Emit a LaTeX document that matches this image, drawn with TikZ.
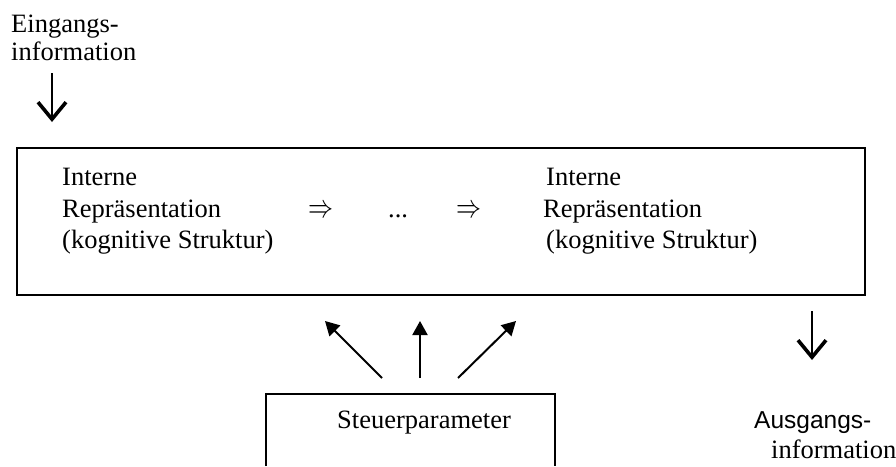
\RequirePackage{fix-cm}
\documentclass[tikz,border=0pt]{standalone}
\usepackage{fontspec}
\setmainfont{Liberation Serif}
\newfontfamily\sansfont{Liberation Sans}
\usepackage{tikz}
\usetikzlibrary{arrows.meta}

\tikzset{
  txt/.style={anchor=base west,inner sep=0pt,font=\fontsize{26.5}{32}\selectfont},
  impl/.style={anchor=west,inner sep=0pt,font=\fontsize{26.5}{32}\selectfont},
  flow/.style={-{Straight Barb[length=17pt,width=28pt,line width=3.6pt]},line width=2.8pt},
  ctrl/.style={-{Triangle[length=14pt,width=15pt]},line width=2pt},
}

\begin{document}
\begin{tikzpicture}[x=1pt,y=-1pt]
  \useasboundingbox (0,0) rectangle (896,466);
  % input
  \node[txt] (ein1) at (11,32) {Eingangs-};
  \node[txt] (ein2) at (11,60) {information};
  \coordinate (einA) at (52,73);
  \coordinate (einB) at (52,122);
  \draw[flow] (einA) -- (einB);
  % internal representation
  \node[draw,line width=2pt,minimum width=848pt,minimum height=147pt,inner sep=0pt] (ibox) at (441,221.5) {};
  \node[txt] (in1) at (62,185) {Interne};
  \node[txt] (rep1) at (62,217) {Repräsentation};
  \node[txt] (kog1) at (62,248) {(kognitive Struktur)};
  \node[impl] (imp1) at (308,211) {\resizebox{25pt}{12pt}{$\Rightarrow$}};
  \node[txt] (dots) at (388,217) {...};
  \node[impl] (imp2) at (456,211) {\resizebox{25pt}{12pt}{$\Rightarrow$}};
  \node[txt] (in2) at (546,185) {Interne};
  \node[txt] (rep2) at (543,217) {Repräsentation};
  \node[txt] (kog2) at (546,248) {(kognitive Struktur)};
  % output
  \coordinate (ausA) at (812,311);
  \coordinate (ausB) at (812,360);
  \draw[flow] (ausA) -- (ausB);
  \node[txt,font=\sansfont\fontsize{24.5}{32}\selectfont] (aus1) at (754,428) {Ausgangs-};
  \node[txt] (aus2) at (771,458) {information};
  % control parameters
  \draw[line width=2pt] (266,466) |- (555,394) -- (555,466);
  \node[txt] (steuer) at (337,428) {Steuerparameter};
  \coordinate (s1) at (382,378);
  \coordinate (s2) at (420,378);
  \coordinate (s3) at (458,378);
  \coordinate (t1) at (325,321);
  \coordinate (t2) at (420,321);
  \coordinate (t3) at (516,321);
  \draw[ctrl] (s1) -- (t1);
  \draw[ctrl] (s2) -- (t2);
  \draw[ctrl] (s3) -- (t3);
\end{tikzpicture}
\end{document}
